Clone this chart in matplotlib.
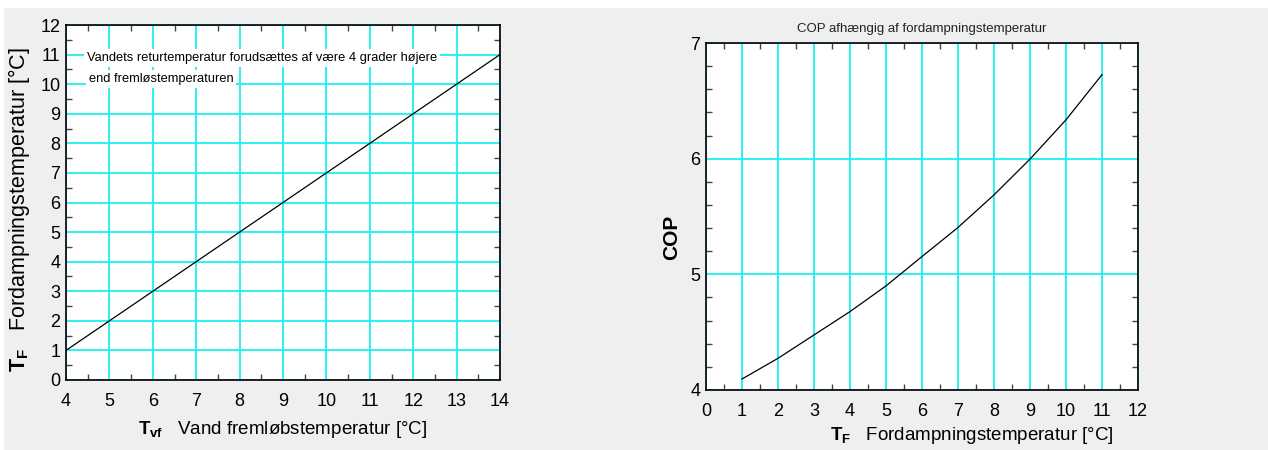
import numpy as np
import matplotlib.pyplot as plt
from matplotlib.patches import Rectangle
from matplotlib.ticker import MultipleLocator

plt.rcParams['font.family'] = ['Liberation Sans', 'DejaVu Sans']
plt.rcParams['mathtext.fontset'] = 'custom'
plt.rcParams['mathtext.rm'] = 'Liberation Sans'
plt.rcParams['mathtext.bf'] = 'Liberation Sans:bold'

# left panel: evaporation temperature vs water supply temperature
t_vf = [4, 5, 6, 7, 8, 9, 10, 11, 12, 13, 14]
t_f = [1, 2, 3, 4, 5, 6, 7, 8, 9, 10, 11]

# right panel: COP vs evaporation temperature
t_evap = [1, 2, 3, 4, 5, 6, 7, 8, 9, 10, 11]
cop = [4.095, 4.274, 4.476, 4.678, 4.90, 5.154, 5.405, 5.687, 5.996, 6.336, 6.726]

note = ['Vandets returtemperatur forudsættes af være 4 grader højere',
        'end fremløstemperaturen']

grid_col = '#19f0f0'
bg = '#efefef'

fig = plt.figure(figsize=(12.68, 4.5), dpi=100)
fig.patch.set_facecolor('white')
fig.patches.append(Rectangle((4 / 1268, 0), 1, 442 / 450, transform=fig.transFigure,
                             facecolor=bg, edgecolor='none', zorder=-10))

ax1 = fig.add_axes([66 / 1268, 70 / 450, 434 / 1268, 355 / 450])
ax2 = fig.add_axes([706 / 1268, 60 / 450, 432 / 1268, 347 / 450])


def style(ax, xmaj, xmin, ymaj, ymin):
    ax.set_facecolor('white')
    ax.xaxis.set_major_locator(MultipleLocator(xmaj))
    ax.xaxis.set_minor_locator(MultipleLocator(xmin))
    ax.yaxis.set_major_locator(MultipleLocator(ymaj))
    ax.yaxis.set_minor_locator(MultipleLocator(ymin))
    ax.grid(True, which='major', color=grid_col, lw=1.3)
    ax.set_axisbelow(True)
    ax.tick_params(which='both', direction='in', top=True, right=True, labelsize=13)
    ax.tick_params(axis='x', which='both', pad=9)
    ax.tick_params(axis='y', which='both', pad=4)
    ax.tick_params(which='major', length=0)
    ax.tick_params(which='minor', length=4, width=1, color='#444444')
    for s in ax.spines.values():
        s.set_linewidth(1.2)
        s.set_color('black')


ax1.plot(t_vf, t_f, color='black', lw=0.9, zorder=5)
ax1.set_xlim(4, 14)
ax1.set_ylim(0, 12)
style(ax1, 1, 0.5, 1, 0.5)
ax1.set_xlabel(r'$\mathbf{T_{vf}}$   Vand fremløbstemperatur [°C]', fontsize=13.5)
ax1.set_ylabel(r'$\mathbf{T_F}$   Fordampningstemperatur [°C]', fontsize=15.5)
ax1.xaxis.set_label_coords(0.5, -0.11)
ax1.yaxis.set_label_coords(-0.078, 0.48)
ax1.text(4.48, 10.88, note[0], fontsize=9.3, va='center', ha='left',
         bbox=dict(facecolor='white', edgecolor='none', pad=2))
ax1.text(4.52, 10.17, note[1], fontsize=9.3, va='center', ha='left',
         bbox=dict(facecolor='white', edgecolor='none', pad=2))

ax2.plot(t_evap, cop, color='black', lw=0.9)
ax2.set_xlim(0, 12)
ax2.set_ylim(4, 7)
style(ax2, 1, 0.5, 1, 0.2)
ax2.set_title('COP afhængig af fordampningstemperatur', fontsize=9.5, pad=8, color='#222222')
ax2.set_ylabel('COP', fontsize=15, fontweight='bold')
ax2.yaxis.set_label_coords(-0.058, 0.44)
ax2.set_xlabel(r'$\mathbf{T_F}$   Fordampningstemperatur [°C]', fontsize=13.5)
ax2.xaxis.set_label_coords(266 / 432, -0.1)

fig.savefig('out.png', dpi=100, facecolor=fig.get_facecolor())
